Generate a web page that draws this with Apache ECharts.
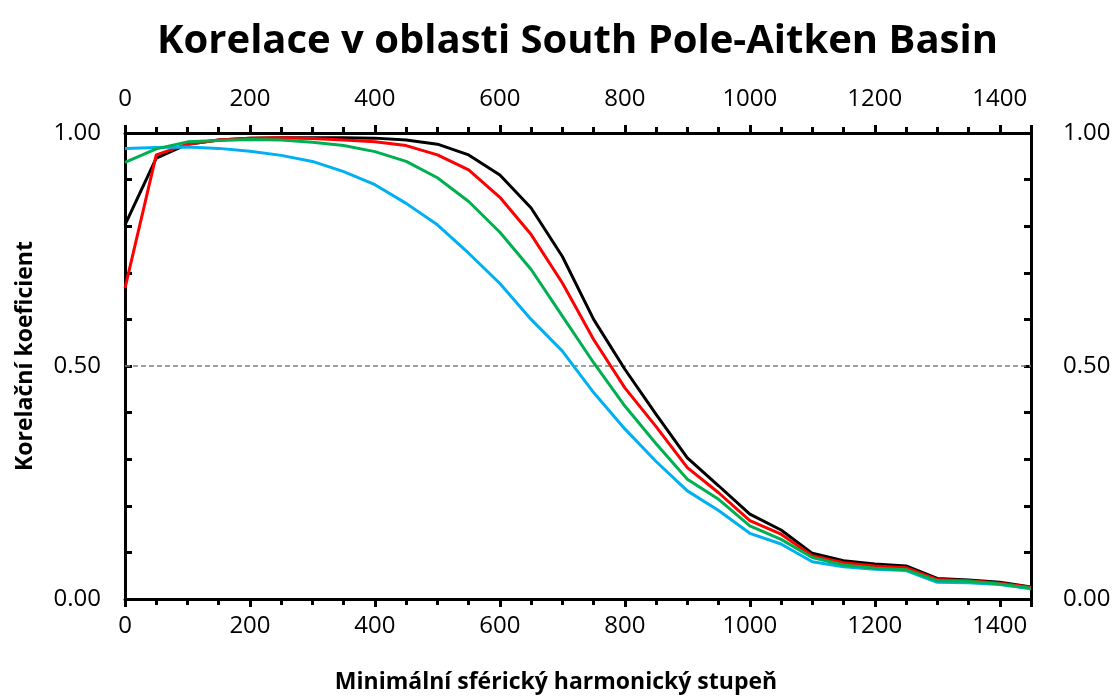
<!DOCTYPE html>
<html>
<head>
<meta charset="utf-8">
<script src="https://cdn.jsdelivr.net/npm/echarts@6/dist/echarts.min.js"></script>
<style>
html,body{margin:0;padding:0;background:#fff;}
#chart{width:1115px;height:696px;}
</style>
</head>
<body>
<div id="chart"></div>
<script>
var titleText = 'Korelace v oblasti South Pole-Aitken Basin';
var xAxisTitle = 'Minimální sférický harmonický stupeň';
var yAxisTitle = 'Korelační koeficient';

var degrees = [0,50,100,150,200,250,300,350,400,450,500,550,600,650,700,750,800,850,900,950,1000,1050,1100,1150,1200,1250,1300,1350,1400,1450];
var seriesBlack = [0.803,0.946,0.976,0.985,0.989,0.990,0.990,0.990,0.989,0.985,0.976,0.953,0.910,0.839,0.735,0.600,0.493,0.396,0.303,0.243,0.182,0.148,0.098,0.082,0.075,0.071,0.044,0.041,0.036,0.026];
var seriesRed = [0.667,0.953,0.976,0.985,0.989,0.990,0.988,0.985,0.981,0.973,0.953,0.921,0.862,0.782,0.678,0.557,0.453,0.370,0.282,0.228,0.168,0.139,0.093,0.078,0.071,0.067,0.042,0.039,0.034,0.025];
var seriesGreen = [0.937,0.966,0.981,0.984,0.986,0.985,0.980,0.973,0.960,0.939,0.904,0.853,0.787,0.707,0.607,0.507,0.414,0.333,0.257,0.214,0.157,0.128,0.089,0.073,0.066,0.063,0.039,0.038,0.032,0.023];
var seriesBlue = [0.967,0.969,0.970,0.967,0.961,0.952,0.939,0.917,0.889,0.849,0.803,0.742,0.677,0.600,0.532,0.443,0.365,0.295,0.232,0.190,0.141,0.118,0.080,0.069,0.064,0.061,0.036,0.035,0.031,0.022];

var xMin = 0, xMax = 1450, xMajor = 200, xMinor = 50;
var yMin = 0, yMax = 1, yMajor = 0.5, yMinor = 0.1;
var refLineValue = 0.5;

function pairs(vals){ return degrees.map(function(d,i){ return [d, vals[i]]; }); }

var FONT = '"Open Sans", "Noto Sans", sans-serif';

function xAxisDef(pos, interval, tickLen, showLabels, showLine, name){
  var a = {
    type: 'value', position: pos, min: xMin, max: xMax, interval: interval,
    axisLine: {show: showLine, onZero: false, lineStyle: {color: '#000', width: 3}},
    axisTick: {show: true, inside: false, length: tickLen, lineStyle: {color: '#000', width: 3}},
    axisLabel: {show: showLabels, color: '#000', fontSize: 24, fontFamily: FONT,
      margin: pos === 'top' ? 22 : 15, showMaxLabel: false,
      formatter: function(v){ return (v % xMajor === 0 && v <= 1400) ? String(v) : ''; }},
    splitLine: {show: false}
  };
  if (name) {
    a.name = name; a.nameLocation = 'middle'; a.nameGap = 72;
    a.nameTextStyle = {color: '#000', fontSize: 23, fontWeight: 'bold', fontFamily: FONT, padding: [0, 44, 0, 0]};
  }
  return a;
}

function yAxisDef(pos, name){
  var a = {
    type: 'value', position: pos, min: yMin, max: yMax, interval: yMinor,
    axisLine: {show: true, onZero: false, lineStyle: {color: '#000', width: 3}},
    axisTick: {show: true, inside: true, length: 7, lineStyle: {color: '#000', width: 3}},
    minorTick: {show: false},
    axisLabel: {show: true, color: '#000', fontSize: 24, fontFamily: FONT, margin: pos === 'left' ? 24 : 32,
      formatter: function(v){
        return Math.abs(v / yMajor - Math.round(v / yMajor)) < 1e-6 ? v.toFixed(2) : '';
      }},
    splitLine: {show: false}
  };
  if (name) {
    a.name = name; a.nameLocation = 'middle'; a.nameGap = 88;
    a.nameTextStyle = {color: '#000', fontSize: 23, fontWeight: 'bold', fontFamily: FONT, padding: [0, 0, 0, 20]};
  }
  return a;
}

var chart = echarts.init(document.getElementById('chart'), null, {renderer: 'canvas'});

function lineSeries(name, vals, color){
  return {
    name: name, type: 'line', xAxisIndex: 0, yAxisIndex: 0, data: pairs(vals),
    showSymbol: false, symbol: 'none', smooth: false, animation: false, z: 3,
    lineStyle: {color: color, width: 3}, itemStyle: {color: color}
  };
}

var series = [
  lineSeries('Černá', seriesBlack, '#000000'),
  lineSeries('Červená', seriesRed, '#FF0000'),
  lineSeries('Modrá', seriesBlue, '#00B0F0'),
  lineSeries('Zelená', seriesGreen, '#00B050')
];
series[0].markLine = {
  silent: true, symbol: ['none','none'], animation: false, z: 1,
  label: {show: false},
  lineStyle: {color: '#808080', type: [5,3], width: 1.5},
  data: [{yAxis: refLineValue}]
};

chart.setOption({
  backgroundColor: '#fff',
  animation: false,
  title: {
    text: titleText, left: 152, top: 17,
    textStyle: {color: '#000', fontSize: 40, fontWeight: 'bold', fontFamily: FONT}
  },
  grid: {left: 125, right: 84, top: 133, bottom: 97, containLabel: false, outerBoundsMode: 'none'},
  xAxis: [
    xAxisDef('bottom', xMinor, 6, true, true, xAxisTitle),
    xAxisDef('bottom', xMajor, 8, false, false, null),
    xAxisDef('top', xMinor, 6, true, true, null),
    xAxisDef('top', xMajor, 8, false, false, null)
  ],
  yAxis: [
    yAxisDef('left', yAxisTitle),
    yAxisDef('right', null)
  ],
  series: series
});
</script>
</body>
</html>
